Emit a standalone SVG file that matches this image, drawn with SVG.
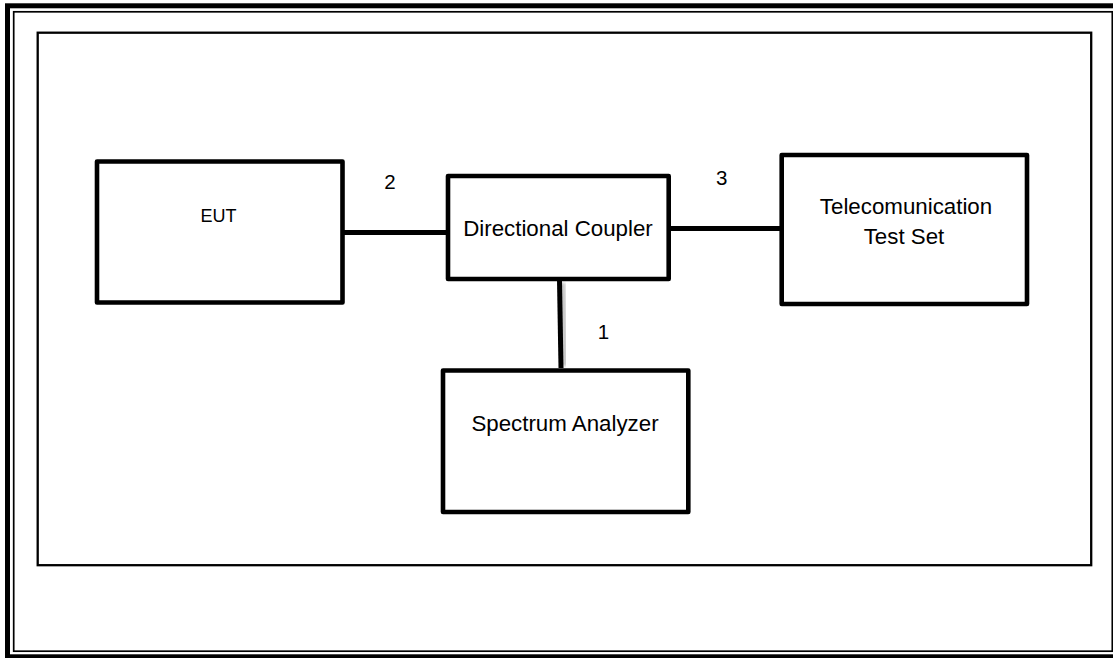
<svg xmlns="http://www.w3.org/2000/svg" width="1113" height="658" viewBox="0 0 1113 658">
<defs>
<filter id="sh" x="-10%" y="-100%" width="120%" height="300%"><feGaussianBlur stdDeviation="1.6"/></filter>
<style>
.box{fill:#fff;stroke:#000;stroke-width:4.6;stroke-linejoin:round}
.lbl{font-family:"Liberation Sans",Arial,sans-serif;font-size:22.3px;fill:#000;text-anchor:middle}
.num{font-family:"Liberation Sans",Arial,sans-serif;font-size:20.5px;fill:#000;text-anchor:middle}
.wire{stroke:#000;stroke-width:5;fill:none}
.shadow{stroke:#888;stroke-width:5;fill:none;opacity:0.5;filter:url(#sh)}
</style>
</defs>
<rect width="1113" height="658" fill="#fff"/>
<g id="frame">
<rect x="7.5" y="5.8" width="1112" height="651" fill="none" stroke="#000" stroke-width="5"/>
<rect x="13.7" y="11.8" width="1098.6" height="639.4" fill="none" stroke="#000" stroke-width="1.7"/>
<rect x="37.7" y="32.7" width="1053.5" height="532.5" fill="none" stroke="#000" stroke-width="2.3"/>
</g>
<g id="connectors">
<line class="shadow" x1="345" y1="237" x2="446" y2="237"/>
<line class="shadow" x1="671" y1="233" x2="780" y2="233"/>
<line class="shadow" x1="563" y1="283" x2="565" y2="366"/>
<line class="wire" x1="344" y1="232.5" x2="447" y2="232.5"/>
<line class="wire" x1="670" y1="228.5" x2="781" y2="228.5"/>
<line class="wire" x1="559.5" y1="280" x2="561" y2="368"/>
</g>
<g id="n-eut">
<rect class="box" x="97" y="161.5" width="245.5" height="141"/>
<text class="lbl" x="218.5" y="221.7" style="font-size:18px">EUT</text>
</g>
<g id="n-coupler">
<rect class="box" x="448" y="176" width="220.7" height="103"/>
<text class="lbl" x="558" y="236">Directional Coupler</text>
</g>
<g id="n-tts">
<rect class="box" x="781.7" y="155" width="245.3" height="149"/>
<text class="lbl" x="906" y="214">Telecomunication</text>
<text class="lbl" x="904" y="244">Test Set</text>
</g>
<g id="n-sa">
<rect class="box" x="443" y="370.5" width="245.3" height="141.5"/>
<text class="lbl" x="565" y="431">Spectrum Analyzer</text>
</g>
<g id="labels">
<text class="num" x="390" y="189.3">2</text>
<text class="num" x="721.7" y="185">3</text>
<text class="num" x="603.5" y="339">1</text>
</g>
</svg>
